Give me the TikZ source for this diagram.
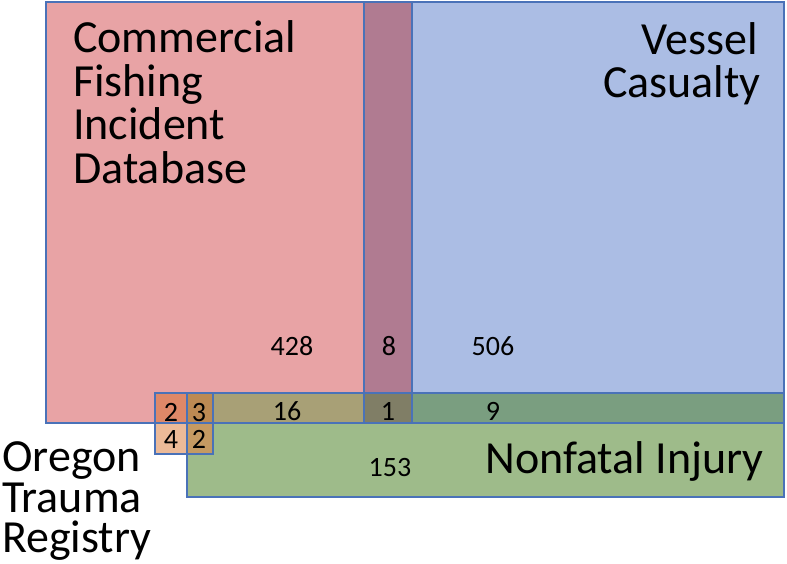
\documentclass[tikz,border=0pt]{standalone}
\usepackage{fontspec}
\setmainfont{Carlito}
\definecolor{cfid}{RGB}{232,163,165}
\definecolor{vessel}{RGB}{171,189,228}
\definecolor{cfidvessel}{RGB}{176,123,145}
\definecolor{injury}{RGB}{158,187,138}
\definecolor{cfidinj}{RGB}{168,160,118}
\definecolor{vesinj}{RGB}{122,158,128}
\definecolor{allthree}{RGB}{128,126,102}
\definecolor{otrcfid}{RGB}{222,136,104}
\definecolor{otrcfidinj}{RGB}{188,138,83}
\definecolor{otronly}{RGB}{236,186,152}
\definecolor{otrinj}{RGB}{197,154,98}
\definecolor{edge}{RGB}{74,114,184}
\tikzset{
  regionedge/.style={draw=edge, line width=1.3pt},
  bigtext/.style={font=\fontsize{46}{46}\selectfont, inner sep=0pt},
  numtext/.style={font=\fontsize{28}{28}\selectfont, inner sep=0pt, anchor=base},
}
\begin{document}
\begin{tikzpicture}[x=1pt, y=-1pt]
\useasboundingbox (0,0) rectangle (787,564);
% fills
\fill[cfid] (46,2) rectangle (412,423);
\fill[vessel] (364,2) rectangle (784,423);
\fill[cfidvessel] (364,2) rectangle (412,423);
\fill[injury] (187,393) rectangle (784,497);
\fill[cfidinj] (187,393) rectangle (364,423);
\fill[allthree] (364,393) rectangle (412,423);
\fill[vesinj] (412,393) rectangle (784,423);
\fill[otrcfid] (155,393) rectangle (187,423);
\fill[otrcfidinj] (187,393) rectangle (213,423);
\fill[otronly] (155,423) rectangle (187,454);
\fill[otrinj] (187,423) rectangle (213,454);
% outlines
\draw[regionedge] (46,2) rectangle (412,423);
\draw[regionedge] (364,2) rectangle (784,423);
\draw[regionedge] (187,393) rectangle (784,497);
\draw[regionedge] (155,393) rectangle (213,454);
% titles
\node[bigtext, anchor=base west] (c1) at (73,53) {Commercial};
\node[bigtext, anchor=base west] (c2) at (73,97) {Fishing};
\node[bigtext, anchor=base west] (c3) at (73,140) {Incident};
\node[bigtext, anchor=base west] (c4) at (73,184) {Database};
\node[bigtext, anchor=base east] (v1) at (758,55) {Vessel};
\node[bigtext, anchor=base east] (v2) at (761,98) {Casualty};
\node[bigtext, anchor=base east] (ni) at (764,473) {Nonfatal Injury};
\node[bigtext, anchor=base west] (o1) at (2,471) {Oregon};
\node[bigtext, anchor=base west] (o2) at (2,512) {Trauma};
\node[bigtext, anchor=base west] (o3) at (2,552) {Registry};
% counts
\node[numtext] (n428) at (292,355) {428};
\node[numtext] (n8) at (389,355) {8};
\node[numtext] (n506) at (493,355) {506};
\node[numtext] (n16) at (287,420) {16};
\node[numtext] (n1) at (388,420) {1};
\node[numtext] (n9) at (493,420) {9};
\node[numtext] (n153) at (390,476) {153};
\node[numtext] (na) at (171,421) {2};
\node[numtext] (nb) at (199,421) {3};
\node[numtext] (nc) at (171,448) {4};
\node[numtext] (nd) at (199,448) {2};
\end{tikzpicture}
\end{document}
